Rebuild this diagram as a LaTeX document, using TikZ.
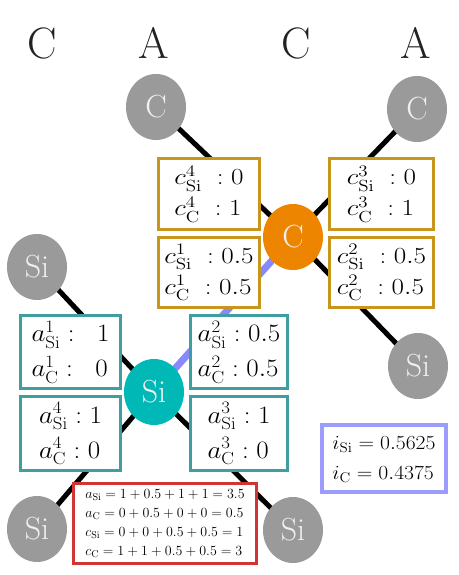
\RequirePackage{fix-cm}
\documentclass[tikz,border=0pt]{standalone}
\usepackage{amsmath}
\usepackage{graphicx}
\usetikzlibrary{shapes.geometric}
\definecolor{goldc}{HTML}{C8961C}
\definecolor{tealb}{HTML}{3E9EA0}
\definecolor{tealf}{HTML}{00B9B6}
\definecolor{orangef}{HTML}{EE8500}
\definecolor{grayf}{HTML}{9A9A9A}
\definecolor{redb}{HTML}{D03434}
\definecolor{blueb}{HTML}{9C9CFF}
\definecolor{bluel}{HTML}{8888FF}
\definecolor{headc}{HTML}{222222}
\newcommand{\myhs}[2]{\scalebox{#1}[1]{#2}}
\tikzset{
  atom/.style={ellipse,minimum width=60pt,minimum height=66pt,inner sep=0pt,
    text=white!94!black,font=\fontsize{32}{32}\selectfont},
  gatom/.style={atom,fill=grayf},
  bond/.style={line width=5pt,black},
  sbond/.style={line width=7pt,bluel},
  vbox/.style={rectangle,draw,line width=3pt,fill=white,inner sep=0pt},
  cbox/.style={vbox,draw=goldc,font=\fontsize{23}{31}\selectfont},
  abox/.style={vbox,draw=tealb,font=\fontsize{25}{35}\selectfont},
  head/.style={text=headc,font=\fontsize{44}{44}\selectfont}
}
\begin{document}
\begin{tikzpicture}[x=1pt,y=-1pt]
\useasboundingbox (0,0) rectangle (458,575);
% headers
\node[head] (h1) at (42,43) {C};
\node[head] (h2) at (154,43) {A};
\node[head] (h3) at (296,43) {C};
\node[head] (h4) at (416,43) {A};
% atom centres
\coordinate (pctl) at (156,107);
\coordinate (pctr) at (417,109);
\coordinate (pcc) at (293,237);
\coordinate (psil) at (37,267);
\coordinate (psic) at (154,392);
\coordinate (psir) at (418,366);
\coordinate (psibl) at (37,529);
\coordinate (psibr) at (293,530);
% bonds
\draw[bond] (pctl) -- (pcc);
\draw[bond] (pctr) -- (pcc);
\draw[bond] (pcc) -- (psir);
\draw[sbond] (pcc) -- (psic);
\draw[bond] (psic) -- (psil);
\draw[bond] (psic) -- (psibl);
\draw[bond] (psic) -- (psibr);
% boxes
\node[cbox,minimum width=101pt,minimum height=71pt] (c4) at (209,194)
  {\myhs{1.18}{$\begin{array}{@{}l@{}}c^4_{\mathrm{Si}}\;:0\\ c^4_{\mathrm{C}}\;:1\end{array}$}};
\node[cbox,minimum width=101pt,minimum height=70pt] (c1) at (209,272.5)
  {\myhs{1.18}{$\begin{array}{@{}l@{}}c^1_{\mathrm{Si}}\;:0.5\\ c^1_{\mathrm{C}}\;:0.5\end{array}$}};
\node[cbox,minimum width=104pt,minimum height=71pt] (c3) at (381.5,194)
  {\myhs{1.18}{$\begin{array}{@{}l@{}}c^3_{\mathrm{Si}}\;:0\\ c^3_{\mathrm{C}}\;:1\end{array}$}};
\node[cbox,minimum width=104pt,minimum height=70pt] (c2) at (381.5,272.5)
  {\myhs{1.18}{$\begin{array}{@{}l@{}}c^2_{\mathrm{Si}}\;:0.5\\ c^2_{\mathrm{C}}\;:0.5\end{array}$}};
\node[abox,minimum width=100pt,minimum height=73pt] (a1) at (70.5,352)
  {\myhs{1.08}{$\begin{array}{@{}l@{}}a^1_{\mathrm{Si}}:\;\;1\\ a^1_{\mathrm{C}}:\;\;0\end{array}$}};
\node[abox,minimum width=97pt,minimum height=73pt] (a2) at (239,352)
  {\myhs{1.08}{$\begin{array}{@{}l@{}}a^2_{\mathrm{Si}}:0.5\\ a^2_{\mathrm{C}}:0.5\end{array}$}};
\node[abox,minimum width=100pt,minimum height=74pt] (a4) at (70.5,433.5)
  {\myhs{1.08}{$\begin{array}{@{}l@{}}a^4_{\mathrm{Si}}:1\\ a^4_{\mathrm{C}}:0\end{array}$}};
\node[abox,minimum width=97pt,minimum height=74pt] (a3) at (239,433.5)
  {\myhs{1.08}{$\begin{array}{@{}l@{}}a^3_{\mathrm{Si}}:1\\ a^3_{\mathrm{C}}:0\end{array}$}};
\node[vbox,draw=redb,minimum width=183pt,minimum height=80pt,
  font=\fontsize{14}{19}\selectfont] (sum) at (165,523.5)
  {$\begin{array}{@{}l@{}}
   a_{\mathrm{Si}}=1+0.5+1+1=3.5\\
   a_{\mathrm{C}}=0+0.5+0+0=0.5\\
   c_{\mathrm{Si}}=0+0+0.5+0.5=1\\
   c_{\mathrm{C}}=1+1+0.5+0.5=3
   \end{array}$};
\node[vbox,draw=blueb,line width=4pt,minimum width=124pt,minimum height=67pt,
  font=\fontsize{20}{30}\selectfont] (ib) at (384,458.5)
  {\myhs{1.08}{$\begin{array}{@{}l@{}}i_{\mathrm{Si}}=0.5625\\ i_{\mathrm{C}}=0.4375\end{array}$}};
% atoms
\node[gatom] (ctl) at (pctl) {C};
\node[gatom] (ctr) at (pctr) {C};
\node[atom,fill=orangef] (cc) at (pcc) {C};
\node[gatom] (sil) at (psil) {Si};
\node[atom,fill=tealf] (sic) at (psic) {Si};
\node[gatom] (sir) at (psir) {Si};
\node[gatom] (sibl) at (psibl) {Si};
\node[gatom] (sibr) at (psibr) {Si};
\end{tikzpicture}
\end{document}
